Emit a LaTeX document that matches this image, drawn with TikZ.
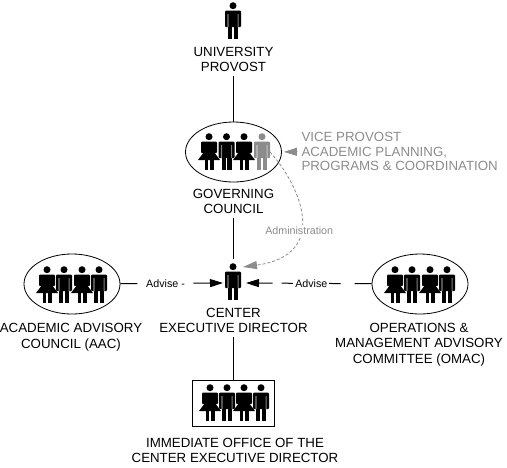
\documentclass[tikz,border=0pt]{standalone}
\usepackage{fontspec}
\setmainfont{Liberation Sans}
\usetikzlibrary{arrows.meta,shapes.geometric}
\definecolor{staffgray}{gray}{.55}
\tikzset{
  lbl/.style={align=center,font=\fontsize{13.3}{15.7}\selectfont,inner sep=0pt,outer sep=4pt},
  flow/.style={line width=1pt,black},
  tagline/.style={font=\fontsize{10.7}{12}\selectfont,fill=white,inner sep=2pt},
  group/.style={ellipse,draw,line width=.8pt,minimum width=96pt,minimum height=60pt,inner sep=0pt},
  pics/man/.style={code={
    \fill[#1] (0,2.7) circle (3.5);
    \fill[#1,rounded corners=1pt] (-8,7.5) rectangle (8,24);
    \fill[#1] (-5,24) rectangle (-.7,35.5);
    \fill[#1] (.7,24) rectangle (5,35.5);
    \fill[white,opacity=.5] (-5.6,11) rectangle (-4.5,24) (4.5,11) rectangle (5.6,24);
  }},
  pics/woman/.style={code={
    \fill[#1] (0,2.7) circle (3.5);
    \fill[#1,rounded corners=1pt] (-8,7.5) rectangle (8,19);
    \fill[#1] (-5,18) -- (5,18) -- (11,26) -- (-11,26) -- cycle;
    \fill[#1] (-4.5,26) rectangle (-.7,35.5);
    \fill[#1] (.7,26) rectangle (4.5,35.5);
  }}
}
\begin{document}
\begin{tikzpicture}[x=1pt,y=-1pt]
  \useasboundingbox (0,0) rectangle (507,467);

  \node[group] (GC) at (233.5,152) {};
  \node[group] (AAC) at (72,284) {};
  \node[group] (OMAC) at (420,284) {};
  \node[draw,line width=1pt,minimum width=82pt,minimum height=46pt,inner sep=0pt] (IO) at (233.5,403) {};
  \coordinate (CEDtop) at (233.5,259);
  \coordinate (CEDl) at (223,283);
  \coordinate (CEDr) at (246,283);
  \coordinate (GCadmin) at (270,152);
  \coordinate (CEDadmin) at (243,267);

  \pic at (233,3) {man=black};
  \pic at (209,134) {woman=black};
  \pic at (226.5,134) {man=black};
  \pic at (244,134) {woman=black};
  \pic at (262,134) {man=staffgray};
  \pic at (233,264) {man=black};
  \pic at (47,267) {woman=black};
  \pic at (64,267) {man=black};
  \pic at (82,267) {woman=black};
  \pic at (99,267) {man=black};
  \pic at (395,267) {woman=black};
  \pic at (412,267) {man=black};
  \pic at (430,267) {woman=black};
  \pic at (447,267) {man=black};
  \pic at (210,385) {woman=black};
  \pic at (227,385) {man=black};
  \pic at (244,385) {woman=black};
  \pic at (261,385) {man=black};

  \node[lbl] (UP) at (233.5,59.5) {UNIVERSITY\\PROVOST};
  \node[lbl] (GClbl) at (233.5,201.5) {GOVERNING\\COUNCIL};
  \node[lbl] (CED) at (233.5,320.5) {CENTER\\EXECUTIVE DIRECTOR};
  \node[lbl] (AAClbl) at (71,337.5) {ACADEMIC ADVISORY\\COUNCIL (AAC)};
  \node[lbl] (OMAClbl) at (419,344.5) {OPERATIONS \&\\MANAGEMENT ADVISORY\\COMMITTEE (OMAC)};
  \node[lbl] (IOlbl) at (235,450.5) {IMMEDIATE OFFICE OF THE\\CENTER EXECUTIVE DIRECTOR};
  \node[lbl,text=staffgray,align=left,anchor=west,font=\fontsize{13.3}{14.8}\selectfont] (VP) at (297.5,151.5) {VICE PROVOST\\ACADEMIC PLANNING,\\PROGRAMS \& COORDINATION};

  \draw[flow] (UP) -- (GC);
  \draw[flow] (GClbl) -- (CEDtop);
  \draw[flow] (CED) -- (IO);
  \draw[flow,dash pattern=on 17pt off 56pt on 40pt,-{Triangle[length=13pt,width=8pt]}] (AAC) -- node[tagline,pos=.44] (AdvL) {Advise -} (CEDl);
  \draw[flow,dash pattern=on 17pt off 14pt on 59pt off 9pt on 40pt,-{Triangle[length=13pt,width=8pt]}] (OMAC) -- node[tagline,pos=.48] (AdvR) {Advise} (CEDr);
  \draw[staffgray,-{Triangle[length=13pt,width=8pt]},line width=.8pt,shorten >=2pt] (VP) -- (GC);
  \draw[staffgray,dash pattern=on 3pt off 2pt,line width=.8pt,-{Triangle[length=14pt,width=8pt]}] (GCadmin) .. controls (300,185) and (331,255) .. node[tagline,text=staffgray,pos=.6] (Adm) {Administration} (CEDadmin);
\end{tikzpicture}
\end{document}
